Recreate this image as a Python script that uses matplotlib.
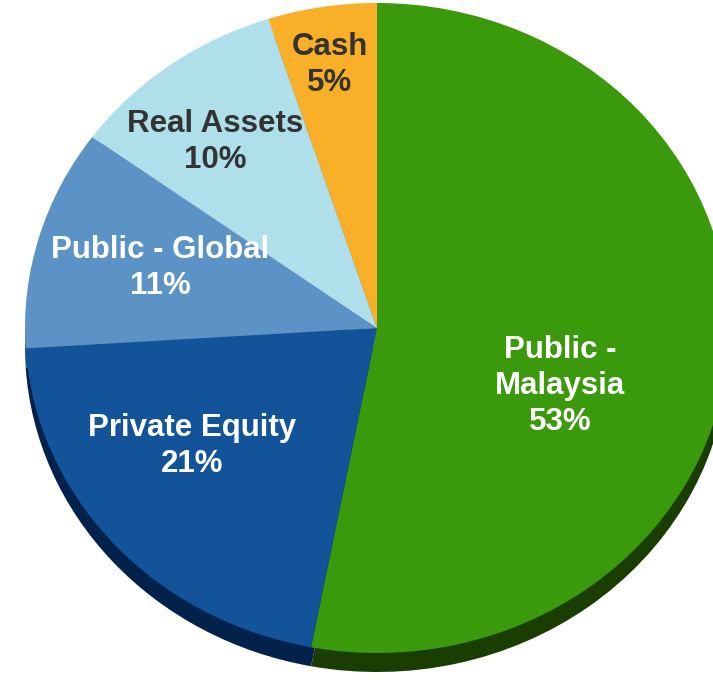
import matplotlib
matplotlib.use("Agg")
import matplotlib.pyplot as plt

labels = ["Public -\nMalaysia", "Private Equity", "Public - Global", "Real Assets", "Cash"]
values = [53, 21, 11, 10, 5]
top_colors = ["#3A9A0B", "#12539A", "#5B93C6", "#AEDFEA", "#F9AF27"]
side_colors = ["#1A3D02", "#02224C", "#2A4F78", "#6A9AA6", "#A0701A"]
text_colors = ["white", "white", "white", "#333333", "#333333"]
label_px = [(560, 386), (192, 446), (160, 268), (215, 142), (330, 65)]

W, H = 713, 684
cx, cy, rx, ry = 377, 328, 352, 325
depth = 19 / ry

fig = plt.figure(figsize=(W / 100, H / 100), dpi=100)
ax = fig.add_axes([0, 0, 1, 1])

# side (3D depth)
ax.pie(values, colors=side_colors, startangle=90, counterclock=False,
       center=(0, -depth), radius=1, wedgeprops=dict(linewidth=0), frame=True)
# top surface
ax.pie(values, colors=top_colors, startangle=90, counterclock=False,
       center=(0, 0), radius=1, wedgeprops=dict(linewidth=0), frame=True)
ax.set_xlim(-cx / rx, (W - cx) / rx)
ax.set_ylim((cy - H) / ry, cy / ry)
ax.set_aspect("auto")
ax.axis("off")

for lab, v, (px, py), tc in zip(labels, values, label_px, text_colors):
    x = (px - cx) / rx
    y = (cy - py) / ry
    ax.text(x, y, f"{lab}\n{v}%", ha="center", va="center", color=tc,
            fontsize=22.5, fontweight="bold", family="Liberation Sans",
            linespacing=1.27)

fig.savefig("out.png", dpi=100)
